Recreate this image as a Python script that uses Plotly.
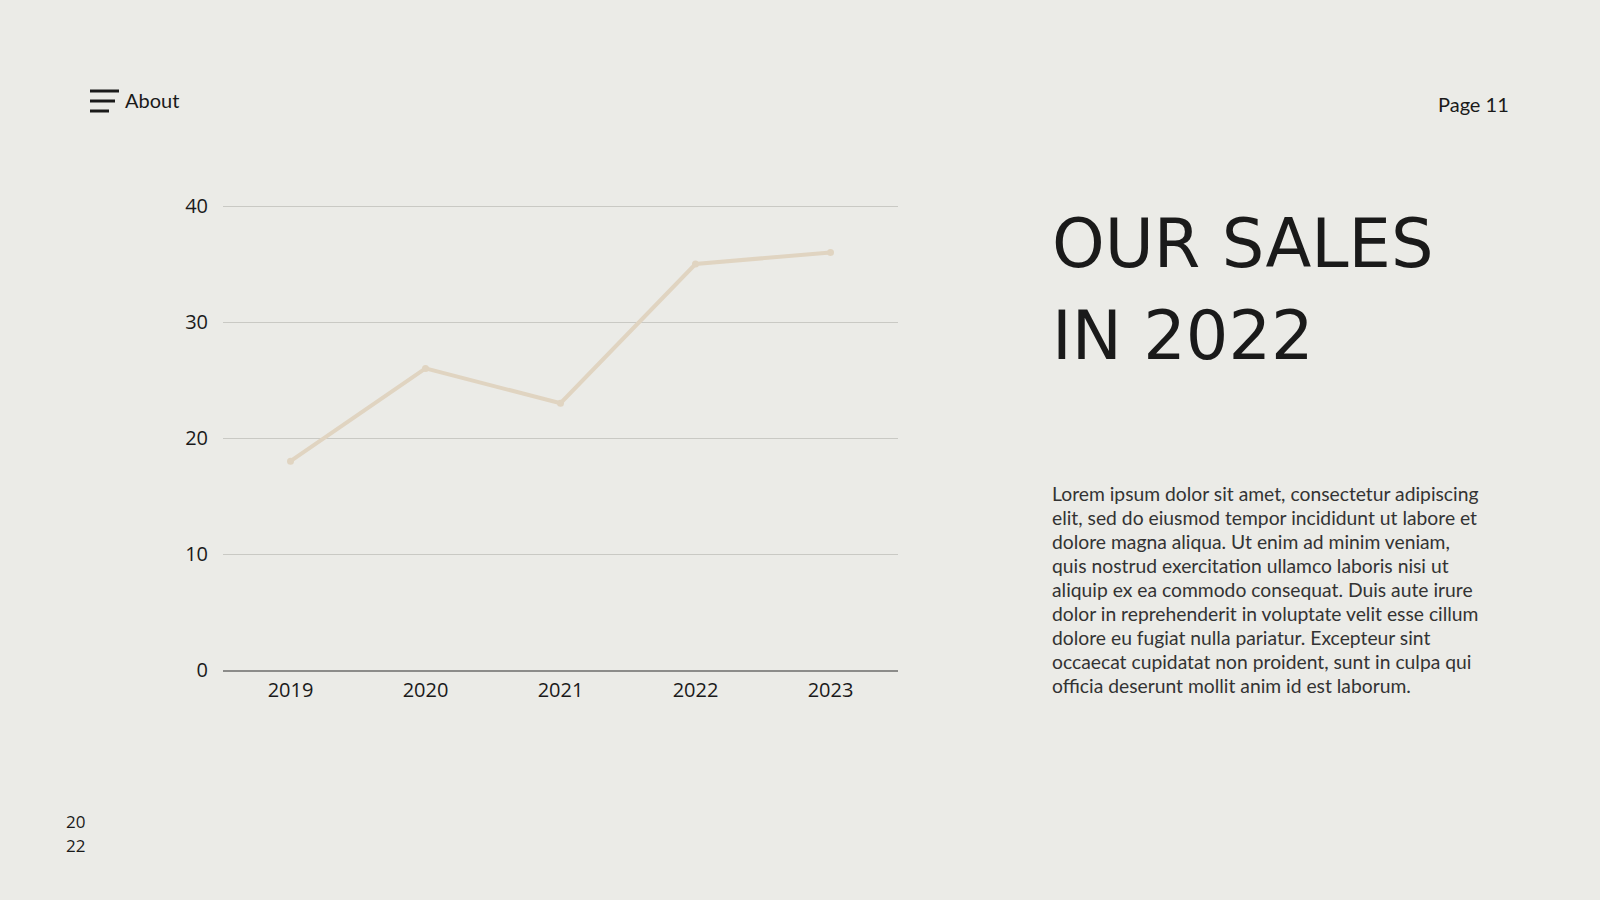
import plotly.graph_objects as go

# sales per year
years = ["2019", "2020", "2021", "2022", "2023"]
sales = [18, 26, 23, 35, 36]
y_ticks = [0, 10, 20, 30, 40]

title_lines = ["OUR SALES", "IN 2022"]
body_lines = [
    "Lorem ipsum dolor sit amet, consectetur adipiscing",
    "elit, sed do eiusmod tempor incididunt ut labore et",
    "dolore magna aliqua. Ut enim ad minim veniam,",
    "quis nostrud exercitation ullamco laboris nisi ut",
    "aliquip ex ea commodo consequat. Duis aute irure",
    "dolor in reprehenderit in voluptate velit esse cillum",
    "dolore eu fugiat nulla pariatur. Excepteur sint",
    "occaecat cupidatat non proident, sunt in culpa qui",
    "officia deserunt mollit anim id est laborum.",
]

BG = "#ebebe7"
INK = "#1a1a1a"

# plot area in pixels (top pushed up a little so the 40 gridline still shows)
L, R, T, B = 223, 898, 203, 670


def px(x):
    return (x - L) / (R - L)


def py(y):
    return (B - y) / (B - T)


fig = go.Figure(go.Scatter(
    x=years, y=sales, mode="lines+markers",
    line=dict(color="#e0d4c1", width=4),
    marker=dict(color="#e0d4c1", size=7),
    hoverinfo="x+y",
))

annos = []
# top-left menu
annos.append(dict(text="About", x=px(123), y=py(100), xanchor="left", yanchor="middle",
                  font=dict(family="Lato", size=20, color=INK)))
annos.append(dict(text="Page 11", x=px(1511), y=py(104), xanchor="right", yanchor="middle",
                  font=dict(family="Lato", size=20, color=INK)))
# title
for i, t in enumerate(title_lines):
    annos.append(dict(text=t, x=px(1050), y=py(244 + i * 92), xanchor="left", yanchor="middle",
                      font=dict(family="DejaVu Sans", size=67, color=INK)))
# body text
for i, t in enumerate(body_lines):
    annos.append(dict(text=t, x=px(1050), y=py(493 + i * 24.1), xanchor="left", yanchor="middle",
                      font=dict(family="Lato", size=19.3, color="#333333")))
# bottom-left year
for i, t in enumerate(["20", "22"]):
    annos.append(dict(text=t, x=px(64), y=py(821 + i * 24), xanchor="left", yanchor="middle",
                      font=dict(family="Open Sans", size=17, color=INK)))
for a in annos:
    a.update(xref="paper", yref="paper", showarrow=False)

shapes = []
for y0, x1 in [(91, 119), (101, 115), (111, 109)]:
    shapes.append(dict(type="line", xref="paper", yref="paper",
                       x0=px(90), x1=px(x1), y0=py(y0), y1=py(y0),
                       line=dict(color=INK, width=3)))

fig.update_layout(
    width=1600, height=900,
    margin=dict(l=L, r=1600 - R, t=T, b=900 - B),
    paper_bgcolor=BG, plot_bgcolor=BG,
    showlegend=False,
    annotations=annos,
    shapes=shapes,
    font=dict(family="Open Sans", color=INK),
)
fig.update_xaxes(
    range=[-0.5, 4.5],
    showgrid=False, showline=True, linecolor="#8c8c8a", linewidth=1.5,
    tickfont=dict(family="Open Sans", size=20, color=INK),
    ticklabelstandoff=1,
)
fig.update_yaxes(
    range=[0, 40.26], tickvals=y_ticks, showgrid=True, gridcolor="#c9c9c4", gridwidth=1.2,
    zeroline=False, showline=False,
    tickfont=dict(family="Open Sans", size=20, color=INK),
    ticklabelstandoff=14,
)

fig.write_html("out.html", config={"displayModeBar": False},
               post_script="document.body.style.margin='0px';")
